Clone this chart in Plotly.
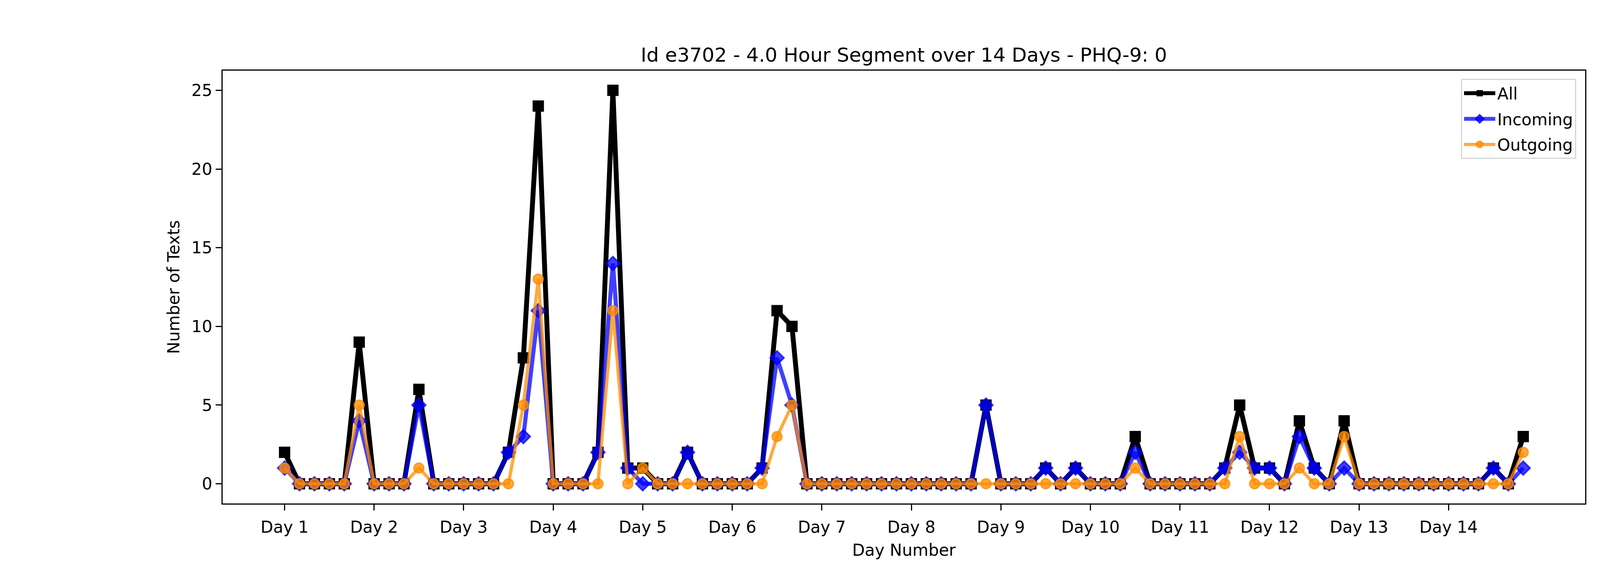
import plotly.graph_objects as go

# 84 four-hour segments over 14 days
all_texts = [2, 0, 0, 0, 0, 9, 0, 0, 0, 6, 0, 0, 0, 0, 0, 2, 8, 24,
             0, 0, 0, 2, 25, 1, 1, 0, 0, 2, 0, 0, 0, 0, 1, 11, 10, 0,
             0, 0, 0, 0, 0, 0, 0, 0, 0, 0, 0, 5, 0, 0, 0, 1, 0, 1,
             0, 0, 0, 3, 0, 0, 0, 0, 0, 1, 5, 1, 1, 0, 4, 1, 0, 4,
             0, 0, 0, 0, 0, 0, 0, 0, 0, 1, 0, 3]
incoming = [1, 0, 0, 0, 0, 4, 0, 0, 0, 5, 0, 0, 0, 0, 0, 2, 3, 11,
            0, 0, 0, 2, 14, 1, 0, 0, 0, 2, 0, 0, 0, 0, 1, 8, 5, 0,
            0, 0, 0, 0, 0, 0, 0, 0, 0, 0, 0, 5, 0, 0, 0, 1, 0, 1,
            0, 0, 0, 2, 0, 0, 0, 0, 0, 1, 2, 1, 1, 0, 3, 1, 0, 1,
            0, 0, 0, 0, 0, 0, 0, 0, 0, 1, 0, 1]
outgoing = [1, 0, 0, 0, 0, 5, 0, 0, 0, 1, 0, 0, 0, 0, 0, 0, 5, 13,
            0, 0, 0, 0, 11, 0, 1, 0, 0, 0, 0, 0, 0, 0, 0, 3, 5, 0,
            0, 0, 0, 0, 0, 0, 0, 0, 0, 0, 0, 0, 0, 0, 0, 0, 0, 0,
            0, 0, 0, 1, 0, 0, 0, 0, 0, 0, 3, 0, 0, 0, 1, 0, 0, 3,
            0, 0, 0, 0, 0, 0, 0, 0, 0, 0, 0, 2]
segments_per_day = 6
day_labels = ["Day %d" % d for d in range(1, 15)]

x = list(range(len(all_texts)))
day_ticks = [i * segments_per_day for i in range(len(day_labels))]

BLUE = "rgba(0,0,255,0.75)"
ORANGE = "rgba(255,140,0,0.75)"
FONT = "DejaVu Sans"

fig = go.Figure()
fig.add_trace(go.Scatter(
    x=x, y=all_texts, name="All", mode="lines+markers", legendgroup="a",
    line=dict(color="black", width=12.5),
    marker=dict(symbol="square", size=29, color="black"),
))
fig.add_trace(go.Scatter(
    x=x, y=incoming, name="Incoming", mode="lines+markers", legendgroup="b",
    line=dict(color=BLUE, width=10.5),
    marker=dict(symbol="diamond", size=27, color=BLUE,
                line=dict(color=BLUE, width=4)),
))
fig.add_trace(go.Scatter(
    x=x, y=outgoing, name="Outgoing", mode="lines+markers", legendgroup="c",
    line=dict(color=ORANGE, width=8.3),
    marker=dict(symbol="circle", size=25, color=ORANGE,
                line=dict(color=ORANGE, width=4)),
))

axis_common = dict(
    showline=True, linecolor="black", linewidth=3.3, mirror=True,
    ticks="outside", ticklen=15, tickwidth=3.3, tickcolor="black",
    showgrid=False, zeroline=False,
    tickfont=dict(family=FONT, size=42, color="black"),
)

fig.update_layout(
    width=4500, height=1440,
    margin=dict(l=562, r=450, t=173, b=158),
    paper_bgcolor="white", plot_bgcolor="white",
    font=dict(family=FONT, color="black"),
    title=dict(text="Id e3702 - 4.0 Hour Segment over 14 Days - PHQ-9: 0",
               x=(562 + 4050) / 2 / 4500, xanchor="center",
               y=1 - 150 / 1440, yanchor="bottom",
               font=dict(family=FONT, size=50, color="black")),
    xaxis=dict(axis_common, range=[-4.15, 87.15], autorange=False,
               tickvals=day_ticks, ticktext=day_labels,
               ticklabelstandoff=6,
               title=dict(text="Day Number", standoff=22,
                          font=dict(family=FONT, size=42))),
    yaxis=dict(axis_common, range=[-1.25, 26.25], autorange=False,
               tickvals=[0, 5, 10, 15, 20, 25],
               title=dict(text="Number of Texts", standoff=18,
                          font=dict(family=FONT, size=42))),
    legend=dict(x=0.9934, y=0.981, xanchor="right", yanchor="top",
                traceorder="grouped", tracegroupgap=8,
                bgcolor="rgba(255,255,255,0.8)",
                bordercolor="#d6d6d6", borderwidth=3,
                font=dict(family=FONT, size=42, color="black"),
                itemwidth=80),
)

fig.write_html("out.html")
